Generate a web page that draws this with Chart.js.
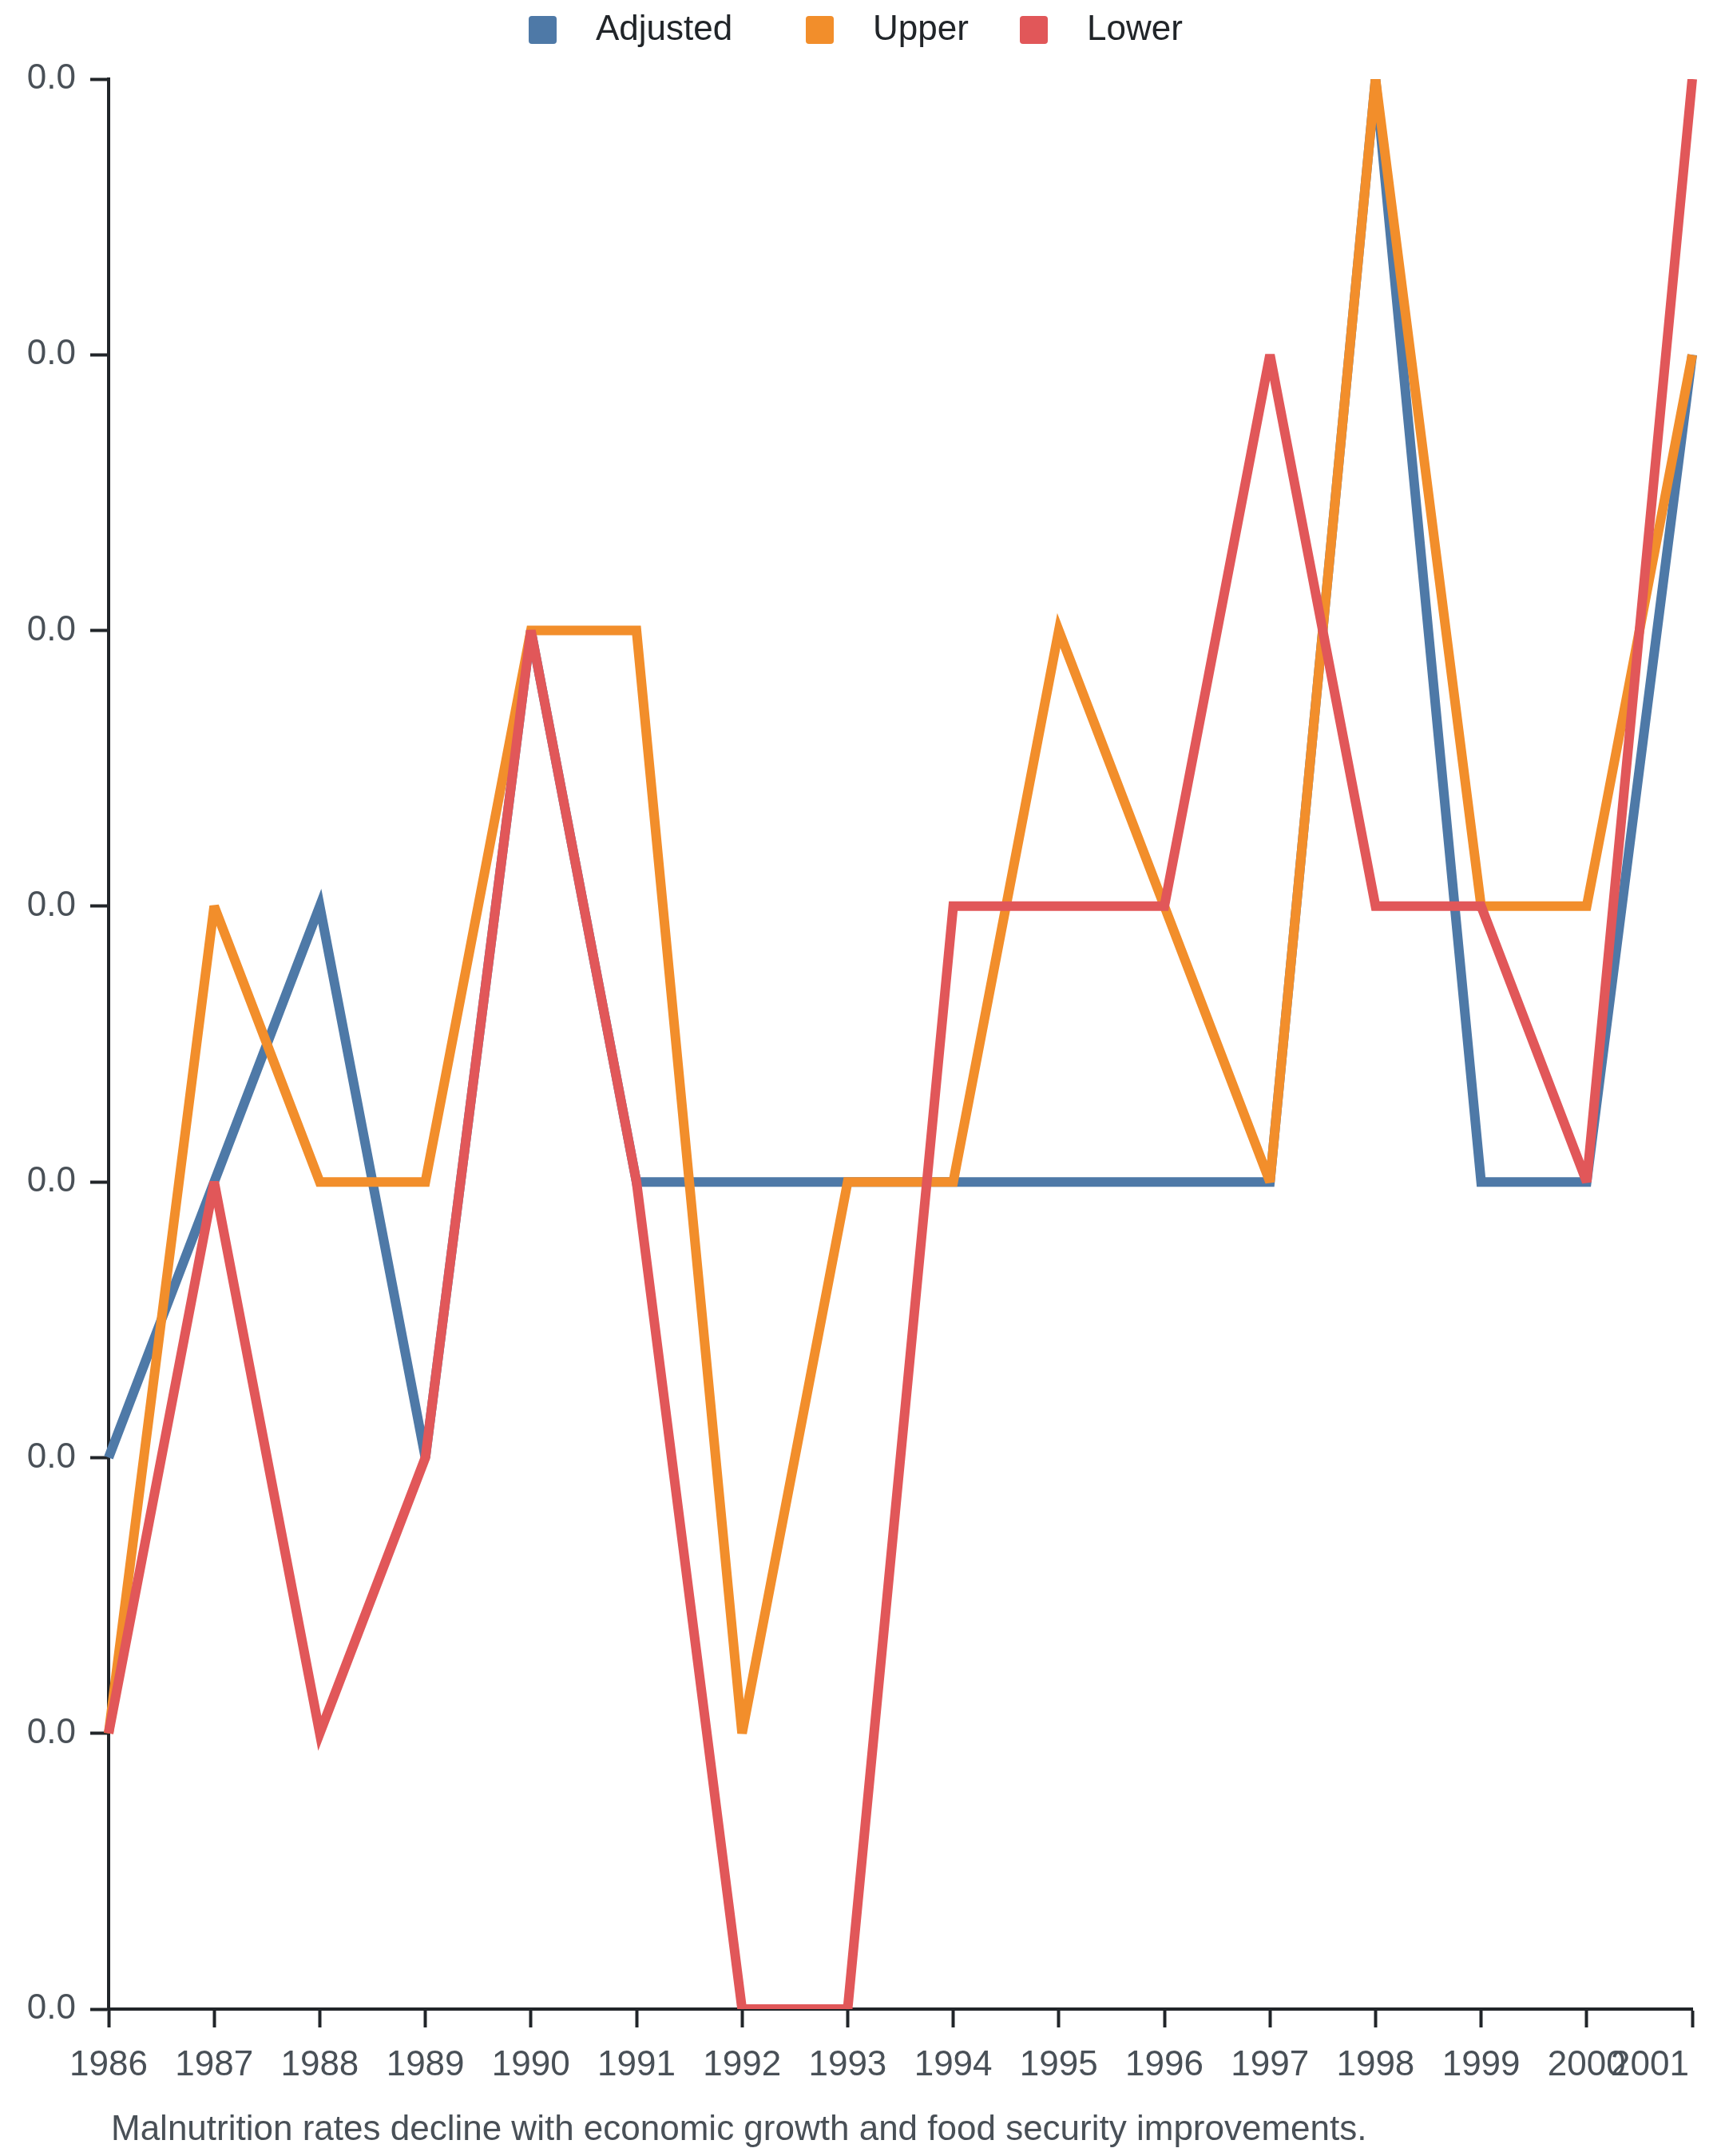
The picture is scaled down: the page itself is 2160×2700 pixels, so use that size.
<!DOCTYPE html>
<html><head><meta charset="utf-8">
<script src="https://cdn.jsdelivr.net/npm/chart.js@4.4.1/dist/chart.umd.min.js"></script>
<style>html,body{margin:0;padding:0;background:#fff;} #wrap{width:2160px;height:2700px;}</style>
</head><body><div id="wrap"><canvas id="c" width="2160" height="2700"></canvas></div>
<script>
const years = ['1986','1987','1988','1989','1990','1991','1992','1993','1994','1995','1996','1997','1998','1999','2000','2001'];
const adjusted = [0.010,0.015,0.020,0.010,0.025,0.015,0.015,0.015,0.015,0.015,0.015,0.015,0.035,0.015,0.015,0.030];
const upper    = [0.005,0.020,0.015,0.015,0.025,0.025,0.005,0.015,0.015,0.025,0.020,0.015,0.035,0.020,0.020,0.030];
const lower    = [0.005,0.015,0.005,0.010,0.025,0.015,0.000,0.000,0.020,0.020,0.020,0.030,0.020,0.020,0.015,0.035];
const yTicks = [0,0.005,0.010,0.015,0.020,0.025,0.030,0.035];
const seriesNames = ['Adjusted','Upper','Lower'];
const seriesColors = ['#4e79a7','#f28e2b','#e15759'];
const caption = 'Malnutrition rates decline with economic growth and food security improvements.';

const FONT = "'Liberation Sans', Arial, Helvetica, sans-serif";
const legendX = [662, 1009, 1277];

const legendPlugin = {
  id: 'customLegend',
  beforeDraw(chart) {
    // flush the last x label to the axis end
    const s = chart.scales.x;
    const items = s.getLabelItems();
    if (items && items.length) {
      const last = items[items.length - 1];
      last.options.textAlign = 'right';
      last.options.translation = [s.right - 4, last.options.translation[1]];
    }
  },
  beforeDatasetsDraw(chart) {
    chart.ctx.miterLimit = 4;
  },
  afterDraw(chart) {
    const ctx = chart.ctx;
    ctx.save();
    ctx.font = '44px ' + FONT;
    ctx.textBaseline = 'middle';
    ctx.textAlign = 'left';
    seriesNames.forEach((name, i) => {
      const x = legendX[i];
      ctx.fillStyle = seriesColors[i];
      ctx.beginPath();
      if (ctx.roundRect) ctx.roundRect(x, 20, 35, 35, 4); else ctx.rect(x, 20, 35, 35);
      ctx.fill();
      ctx.fillStyle = '#212529';
      ctx.fillText(name, x + 84, 38);
    });
    ctx.font = '44px ' + FONT;
    ctx.fillStyle = '#495057';
    ctx.textBaseline = 'alphabetic';
    ctx.fillText(caption, 139, 2680);
    ctx.restore();
  }
};

const datasets = [adjusted, upper, lower].map((d, i) => ({
  label: seriesNames[i],
  data: d,
  borderColor: seriesColors[i],
  backgroundColor: seriesColors[i],
  borderWidth: 12,
  borderJoinStyle: 'miter',
  pointRadius: 0,
  pointHoverRadius: 0,
  tension: 0,
  fill: false,
  order: 2 - i
}));

new Chart(document.getElementById('c'), {
  type: 'line',
  data: { labels: years, datasets },
  options: {
    responsive: false,
    animation: false,
    devicePixelRatio: 1,
    layout: { padding: { top: 99, right: 41, bottom: 0, left: 0 } },
    plugins: { legend: { display: false }, tooltip: { enabled: false }, title: { display: false } },
    scales: {
      x: {
        type: 'category',
        offset: false,
        grid: { display: true, drawOnChartArea: false, tickLength: 23, tickWidth: 4, tickColor: '#212529' },
        border: { display: true, color: '#212529', width: 4 },
        ticks: { color: '#495057', font: { size: 44, family: FONT }, padding: 21, maxRotation: 0, autoSkip: false },
        afterFit(s) { s.height = 184; s.paddingLeft = 0; s.paddingRight = 0; }
      },
      y: {
        min: 0, max: 0.035,
        grid: { display: true, drawOnChartArea: false, tickLength: 23, tickWidth: 4, tickColor: '#212529' },
        border: { display: true, color: '#212529', width: 4 },
        ticks: { color: '#495057', font: { size: 44, family: FONT }, padding: 18, callback: v => Number(v).toFixed(1) },
        afterBuildTicks(s) { s.ticks = yTicks.map(v => ({ value: v })); },
        afterFit(s) { s.width = 136; }
      }
    }
  },
  plugins: [legendPlugin]
});
</script></body></html>
